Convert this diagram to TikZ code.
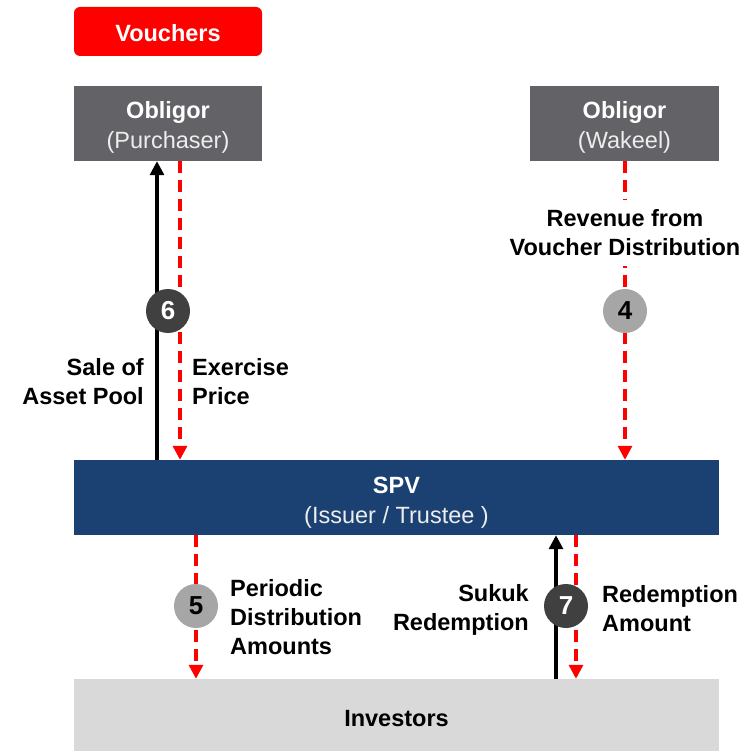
\documentclass[tikz,border=0pt]{standalone}
\usepackage{fontspec}
\setmainfont{Liberation Sans}
\usetikzlibrary{arrows.meta,positioning}
\definecolor{vred}{HTML}{FF0000}
\definecolor{obgray}{HTML}{636367}
\definecolor{spvblue}{HTML}{1B4173}
\definecolor{invgray}{HTML}{D9D9D9}
\definecolor{stepdark}{HTML}{404040}
\definecolor{steplight}{HTML}{A6A6A6}
\definecolor{subwhite}{HTML}{EDEDED}
\tikzset{
  txt/.style={font=\fontsize{23.5}{29}\selectfont\bfseries, align=left, inner sep=0pt},
  box/.style={minimum width=#1, inner sep=0pt},
  boxtext/.style={inner sep=0pt, align=center, text=white,
    font=\fontsize{23.5}{30}\selectfont},
  flowsolid/.style={draw=black, line width=3.2pt, -{Triangle[length=14pt,width=14pt]}},
  flowdash/.style={draw=vred, line width=3.2pt, dash pattern=on 12pt off 7pt,
    -{Triangle[length=14pt,width=14pt]}},
  stepnum/.style={circle, minimum size=44pt, inner sep=0pt, fill=#1,
    font=\fontsize{26}{30}\selectfont\bfseries},
}
\begin{document}
\begin{tikzpicture}[x=1pt,y=-1pt]
\useasboundingbox (0,0) rectangle (752,751);

% boxes
\node[box=188pt, minimum height=49pt, fill=vred, rounded corners=6pt] (vouch) at (168,31.5) {};
\node[box=188pt, minimum height=75pt, fill=obgray] (purch) at (168,123.5) {};
\node[box=189pt, minimum height=75pt, fill=obgray] (wakeel) at (624.5,123.5) {};
\node[box=645pt, minimum height=75pt, fill=spvblue] (spv) at (396.5,497.5) {};
\node[box=645pt, minimum height=72pt, fill=invgray] (inv) at (396.5,715) {};

% box captions
\node[boxtext, font=\fontsize{23.5}{28}\selectfont\bfseries] (voucht)
  at ([yshift=-2pt]vouch.center) {Vouchers};
\node[boxtext] (purcht) at ([yshift=-4pt]purch.center)
  {\textbf{Obligor}\\\textcolor{subwhite}{(Purchaser)}};
\node[boxtext] (wakeelt) at ([yshift=-4pt]wakeel.center)
  {\textbf{Obligor}\\\textcolor{subwhite}{(Wakeel)}};
\node[boxtext] (spvt) at ([yshift=-5pt]spv.center)
  {\textbf{SPV}\\\textcolor{subwhite}{(Issuer / Trustee )}};
\node[boxtext, text=black, font=\fontsize{23.5}{28}\selectfont\bfseries] (invt)
  at ([yshift=-4pt]inv.center) {Investors};

% x positions of the flows
\coordinate (xa) at (157,0);
\coordinate (xb) at (180,0);
\coordinate (xc) at (625,0);
\coordinate (xd) at (196,0);
\coordinate (xe) at (556,0);
\coordinate (xf) at (576,0);

% upper flows
\draw[flowsolid] (spv.north -| xa) -- (purch.south -| xa);
\draw[flowdash] (purch.south -| xb) -- (spv.north -| xb);
\draw[flowdash] (wakeel.south -| xc) -- (spv.north -| xc);

% lower flows
\draw[flowdash] (spv.south -| xd) -- (inv.north -| xd);
\draw[flowsolid] (inv.north -| xe) -- (spv.south -| xe);
\draw[flowdash] (spv.south -| xf) -- (inv.north -| xf);

% step markers
\node[stepnum=stepdark, text=white] (s6) at (168,311) {6};
\node[stepnum=steplight, text=black] (s4) at (625,311) {4};
\node[stepnum=steplight, text=black] (s5) at (196,606) {5};
\node[stepnum=stepdark, text=white] (s7) at (566,606) {7};

% labels
\node[txt, align=center, fill=white, inner sep=10pt] (lrev) at (625,233)
  {Revenue from\\Voucher Distribution};
\node[txt, align=right, anchor=east] (lsale) at (144,382) {Sale of\\Asset Pool};
\node[txt, anchor=west] (lex) at (192,382) {Exercise\\Price};
\node[txt, anchor=west] (lper) at (230,617) {Periodic\\Distribution\\Amounts};
\node[txt, align=right, anchor=east] (lsuk) at (529,610) {Sukuk\\Redemption};
\node[txt, anchor=west] (lred) at (602,609) {Redemption\\Amount};
\end{tikzpicture}
\end{document}
